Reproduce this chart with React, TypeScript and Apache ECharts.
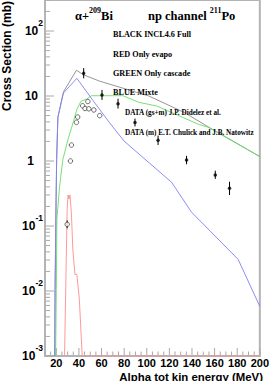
import { useEffect, useRef } from "react";
import * as echarts from "echarts";

const X_MIN = 10;
const X_MAX = 200;
const Y_MIN = 0.001;
const Y_MAX = 300;

const xTickLabels = [20, 40, 60, 80, 100, 120, 140, 160, 180, 200];
const yTickLabels = [0.001, 0.01, 0.1, 1, 10, 100];

// BLACK INCL4.6 Full
const fullE = [18.6, 18.9, 19.8, 20.3, 21.4, 26.7, 37.8, 44, 58, 101.8, 133, 155, 200];
const fullV = [0.001, 0.0106, 0.257, 1.06, 4.7, 11.9, 24.9, 21.2, 17.0, 10, 5.6, 3.3, 1.17];

// RED Only evapo
const evapoE = [27.3, 28.8, 29.6, 30.4, 31.2, 32.1, 33.4, 34.6, 36.5, 38.2, 40.4, 42.9, 200];
const evapoV = [0.001, 0.0307, 0.18, 0.3, 0.26, 0.3, 0.15, 0.044, 0.018, 0.018, 0.0074, 0.001, 0.001];

// GREEN Only cascade
const cascE = [19.4, 20.0, 20.5, 22.9, 25.8, 30.4, 35.2, 38.2, 41.8, 46.6, 51, 79, 93, 109, 145.7, 154.5, 200];
const cascV = [0.001, 0.0106, 0.127, 0.408, 1.06, 2.16, 4.08, 6.24, 8.3, 8.9, 10.1, 10.1, 8.0, 7.0, 3.67, 3.3, 1.17];

// BLUE Mixte
const mixE = [18.6, 18.9, 19.8, 20.3, 21.4, 26.0, 38.2, 52.5, 66.8, 79.9, 122, 139.6, 180.8, 200];
const mixV = [0.001, 0.0106, 0.257, 1.06, 4.7, 11.0, 18.7, 8.5, 3.94, 2.03, 0.47, 0.163, 0.0307, 0.0058];

// DATA (gs+m) J.P. Didelez et al.
const didelezE = [29.6, 32.5, 33.4, 37.8, 38.9, 43.3, 45.4, 47.9, 48.8, 53.2, 58.4];
const didelezV = [0.106, 1.0, 1.76, 3.94, 4.75, 7.07, 6.42, 8.23, 6.35, 6.1, 4.99];
const didelezErrE = [29.6];
const didelezLo = [0.092];
const didelezHi = [0.122];

// DATA (m) E.T. Chulick and J.B. Natowitz
const chulickE = [44.2, 60.4, 74.6, 89.6, 110, 135.2, 160.6, 173.2];
const chulickV = [22.4, 10.4, 7.6, 3.9, 2.08, 1.04, 0.61, 0.38];
const chulickLo = [18.7, 8.7, 6.4, 3.4, 1.76, 0.89, 0.53, 0.3];
const chulickHi = [26.9, 12.4, 9.1, 4.5, 2.46, 1.2, 0.71, 0.48];

const SANS = "'Liberation Sans', Arial, sans-serif";
const SERIF = "'Liberation Serif', 'Times New Roman', serif";

const zip = (xs: number[], ys: number[]) => xs.map((x, i) => [x, ys[i]]);

function buildTicks() {
  const ticks: number[][] = [];
  // y axis: [x, y, axis=0, length]
  for (let d = -3; d <= 2; d++) {
    const base = Math.pow(10, d);
    ticks.push([X_MIN, base, 0, 8]);
    for (let m = 2; m <= 9; m++) {
      const v = m * base;
      if (v <= Y_MAX) ticks.push([X_MIN, v, 0, 4]);
    }
  }
  // x axis: [x, y, axis=1, length]
  for (let v = X_MIN; v <= X_MAX; v += 5) {
    const major = xTickLabels.indexOf(v) >= 0;
    ticks.push([v, Y_MIN, 1, major ? 7 : 3.5]);
  }
  return ticks;
}

export default function App() {
  const ref = useRef<HTMLDivElement>(null);

  useEffect(() => {
    document.body.style.margin = "0";
    const chart = echarts.init(ref.current!, null, { renderer: "svg" });

    const lineSeries = (name: string, xs: number[], ys: number[], color: string) => ({
      name,
      type: "line",
      data: zip(xs, ys),
      showSymbol: false,
      symbol: "none",
      lineStyle: { color, width: 0.9 },
      clip: true,
      z: 3,
    });

    const errData = [
      ...chulickE.map((x, i) => [x, chulickLo[i], chulickHi[i]]),
      ...didelezErrE.map((x, i) => [x, didelezLo[i], didelezHi[i]]),
    ];

    const option: any = {
      animation: false,
      backgroundColor: "#ffffff",
      grid: {
        left: 45,
        right: 10,
        top: 0,
        bottom: 25,
        show: true,
        borderColor: "#b4b4b4",
        borderWidth: 2,
        backgroundColor: "transparent",
      },
      xAxis: {
        type: "value",
        min: X_MIN,
        max: X_MAX,
        interval: 10,
        axisLine: { show: true, lineStyle: { color: "#b4b4b4", width: 2 } },
        axisTick: { show: false },
        splitLine: { show: false },
        axisLabel: {
          margin: 1,
          color: "#000",
          fontFamily: SANS,
          fontWeight: "bold",
          fontSize: 11,
          lineHeight: 12,
          showMinLabel: true,
          showMaxLabel: true,
          hideOverlap: false,
          formatter: (v: number) => (xTickLabels.indexOf(Math.round(v)) >= 0 ? String(Math.round(v)) : ""),
        },
      },
      yAxis: {
        type: "log",
        logBase: 10,
        min: Y_MIN,
        max: Y_MAX,
        axisLine: { show: true, lineStyle: { color: "#b4b4b4", width: 2 } },
        axisTick: { show: false },
        splitLine: { show: false },
        axisLabel: {
          margin: 2,
          color: "#000",
          fontFamily: SANS,
          fontWeight: "bold",
          formatter: (v: number) => {
            const e = Math.log10(v);
            const r = Math.round(e);
            if (Math.abs(e - r) > 1e-6) return "";
            if (yTickLabels.every((t) => Math.abs(Math.log10(t) - r) > 1e-6)) return "";
            if (r === 0) return "{n|1}";
            if (r === 1) return "{t|10}";
            return "{b|10}{s|" + r + "}";
          },
          rich: {
            b: { fontSize: 12, fontWeight: "bold", fontFamily: SANS, lineHeight: 26, color: "#000" },
            s: { fontSize: 8.5, fontWeight: "bold", fontFamily: SANS, lineHeight: 8, verticalAlign: "top", color: "#000" },
            n: { fontSize: 12, fontWeight: "bold", fontFamily: SANS, lineHeight: 26, padding: [0, 9, 0, 0], color: "#000" },
            t: { fontSize: 12, fontWeight: "bold", fontFamily: SANS, lineHeight: 26, padding: [0, 5, 0, 0], color: "#000" },
          },
        },
      },
      series: [
        lineSeries("BLACK INCL4.6 Full", fullE, fullV, "#8a8a8a"),
        lineSeries("RED Only evapo", evapoE, evapoV, "#ff8c8c"),
        lineSeries("GREEN Only cascade", cascE, cascV, "#66dd66"),
        lineSeries("BLUE Mixte", mixE, mixV, "#8080f4"),
        {
          name: "ticks",
          type: "custom",
          data: buildTicks(),
          clip: false,
          silent: true,
          z: 1,
          renderItem: (_p: any, api: any) => {
            const pt = api.coord([api.value(0), api.value(1)]);
            const axis = api.value(2);
            const len = api.value(3);
            const shape =
              axis === 0
                ? { x1: pt[0] + 1, y1: pt[1], x2: pt[0] + 1 + len, y2: pt[1] }
                : { x1: pt[0], y1: pt[1] - 1, x2: pt[0], y2: pt[1] - 1 - len };
            return { type: "line", shape, style: { stroke: "#a8a8a8", lineWidth: 1 } };
          },
        },
        {
          name: "errors",
          type: "custom",
          data: errData,
          clip: true,
          z: 4,
          renderItem: (_p: any, api: any) => {
            const a = api.coord([api.value(0), api.value(1)]);
            const b = api.coord([api.value(0), api.value(2)]);
            return {
              type: "line",
              shape: { x1: a[0], y1: a[1], x2: b[0], y2: b[1] },
              style: { stroke: "#000", lineWidth: 1 },
            };
          },
        },
        {
          name: "DATA (gs+m) J.P. Didelez et al.",
          type: "scatter",
          data: zip(didelezE, didelezV),
          symbol: "circle",
          symbolSize: 4.5,
          itemStyle: { color: "#ffffff", borderColor: "#333", borderWidth: 0.9 },
          z: 5,
        },
        {
          name: "DATA (m) E.T. Chulick and J.B. Natowitz",
          type: "scatter",
          data: zip(chulickE, chulickV),
          symbol: "circle",
          symbolSize: 3.5,
          itemStyle: { color: "#000" },
          z: 5,
        },
      ],
      graphic: [
        {
          type: "text",
          x: 75,
          y: 16,
          style: {
            text: "{a|α+}{s|209}{a|Bi}",
            verticalAlign: "middle",
            rich: {
              a: { fontFamily: SERIF, fontWeight: "bold", fontSize: 12.5, lineHeight: 20, fill: "#000" },
              s: { fontFamily: SERIF, fontWeight: "bold", fontSize: 8, lineHeight: 8, verticalAlign: "top", fill: "#000" },
            },
          },
        },
        {
          type: "text",
          x: 148,
          y: 16,
          style: {
            text: "{a|np channel }{s|211}{a|Po}",
            verticalAlign: "middle",
            rich: {
              a: { fontFamily: SERIF, fontWeight: "bold", fontSize: 12.5, lineHeight: 20, fill: "#000" },
              s: { fontFamily: SERIF, fontWeight: "bold", fontSize: 8, lineHeight: 8, verticalAlign: "top", fill: "#000" },
            },
          },
        },
        ...[
          ["BLACK INCL4.6 Full", 113, 34.3, 8.2],
          ["RED Only evapo", 113, 54.3, 8.2],
          ["GREEN Only cascade", 113, 73.5, 8.2],
          ["BLUE Mixte", 113, 92.8, 8.2],
          ["DATA (gs+m) J.P. Didelez et al.", 125, 112.7, 7.2],
          ["DATA (m) E.T. Chulick and J.B. Natowitz", 125, 133.3, 7.2],
        ].map(([t, x, y, fs]) => ({
          type: "text",
          x,
          y,
          z: 10,
          style: {
            text: t,
            fill: "#000",
            font: `bold ${fs}px ${SERIF}`,
            verticalAlign: "middle",
            align: "left",
          },
        })),
        {
          type: "text",
          x: 263,
          y: 376.5,
          style: {
            text: "Alpha tot kin energy (MeV)",
            fill: "#000",
            font: `bold 11.4px ${SANS}`,
            lineHeight: 11,
            align: "right",
            verticalAlign: "middle",
          },
        },
        {
          type: "text",
          x: 7,
          y: 1,
          rotation: Math.PI / 2,
          style: {
            text: "Cross Section (mb)",
            fill: "#000",
            font: `bold 12px ${SANS}`,
            align: "right",
            verticalAlign: "middle",
          },
        },
      ],
    };

    chart.setOption(option);
    return () => chart.dispose();
  }, []);

  return <div ref={ref} style={{ width: 272, height: 381 }} />;
}
